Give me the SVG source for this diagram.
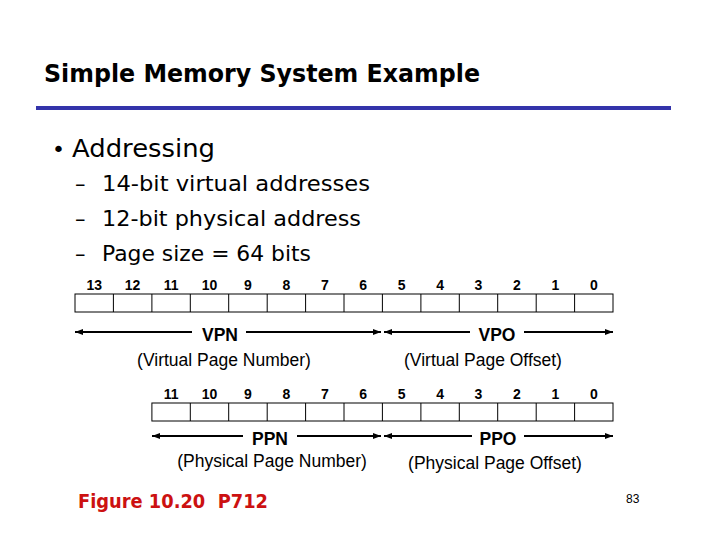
<svg xmlns="http://www.w3.org/2000/svg" width="720" height="540" viewBox="0 0 720 540">
<defs>
<marker id="ah" viewBox="0 0 8 6" refX="8" refY="3" markerWidth="8" markerHeight="6" markerUnits="userSpaceOnUse" orient="auto-start-reverse"><path d="M0,0 L8,3 L0,6 z" fill="#000"/></marker>
<style>
.t{font-family:"DejaVu Sans",sans-serif;fill:#000}
.num{font-family:"Liberation Sans",Arial,sans-serif;font-weight:bold;font-size:14px;text-anchor:middle}
.lbl{font-family:"Liberation Sans",Arial,sans-serif;font-weight:bold;font-size:17.5px;text-anchor:middle}
.sub{font-family:"Liberation Sans",Arial,sans-serif;font-size:17.5px;text-anchor:middle}
.cell{fill:#fff;stroke:#000;stroke-width:1}
.ln{stroke:#000;stroke-width:2;fill:none}
</style>
</defs>
<rect width="720" height="540" fill="#fff"/>
<g id="title">
<text class="t" x="44" y="82" font-size="24" font-weight="bold" textLength="436" lengthAdjust="spacingAndGlyphs">Simple Memory System Example</text>
<rect x="36" y="106" width="635" height="4" fill="#3333aa"/>
</g>
<g id="bullets">
<text class="t" x="52" y="157" font-size="22">•</text>
<text class="t" x="72" y="157" font-size="24" textLength="143" lengthAdjust="spacingAndGlyphs">Addressing</text>
<text class="t" x="75" y="191" font-size="21">–</text>
<text class="t" x="102" y="191" font-size="21" textLength="268" lengthAdjust="spacingAndGlyphs">14-bit virtual addresses</text>
<text class="t" x="75" y="226" font-size="21">–</text>
<text class="t" x="102" y="226" font-size="21" textLength="259" lengthAdjust="spacingAndGlyphs">12-bit physical address</text>
<text class="t" x="75" y="261" font-size="21">–</text>
<text class="t" x="102" y="261" font-size="21" textLength="209" lengthAdjust="spacingAndGlyphs">Page size = 64 bits</text>
</g>
<g id="virtual-address">
<text class="num" x="94.2" y="290">13</text>
<text class="num" x="132.6" y="290">12</text>
<text class="num" x="171.1" y="290">11</text>
<text class="num" x="209.5" y="290">10</text>
<text class="num" x="247.9" y="290">9</text>
<text class="num" x="286.4" y="290">8</text>
<text class="num" x="324.8" y="290">7</text>
<text class="num" x="363.2" y="290">6</text>
<text class="num" x="401.7" y="290">5</text>
<text class="num" x="440.1" y="290">4</text>
<text class="num" x="478.5" y="290">3</text>
<text class="num" x="516.9" y="290">2</text>
<text class="num" x="555.4" y="290">1</text>
<text class="num" x="593.8" y="290">0</text>
<rect class="cell" x="75" y="294" width="538" height="18"/>
<path d="M113.4,294V312M151.9,294V312M190.3,294V312M228.7,294V312M267.2,294V312M305.6,294V312M344,294V312M382.4,294V312M420.9,294V312M459.3,294V312M497.7,294V312M536.2,294V312M574.6,294V312" stroke="#000" stroke-width="1"/>
</g>
<g id="physical-address">
<text class="num" x="171.1" y="399">11</text>
<text class="num" x="209.5" y="399">10</text>
<text class="num" x="247.9" y="399">9</text>
<text class="num" x="286.4" y="399">8</text>
<text class="num" x="324.8" y="399">7</text>
<text class="num" x="363.2" y="399">6</text>
<text class="num" x="401.7" y="399">5</text>
<text class="num" x="440.1" y="399">4</text>
<text class="num" x="478.5" y="399">3</text>
<text class="num" x="516.9" y="399">2</text>
<text class="num" x="555.4" y="399">1</text>
<text class="num" x="593.8" y="399">0</text>
<rect class="cell" x="151.9" y="403" width="461.1" height="18"/>
<path d="M190.3,403V421M228.7,403V421M267.2,403V421M305.6,403V421M344,403V421M382.4,403V421M420.9,403V421M459.3,403V421M497.7,403V421M536.2,403V421M574.6,403V421" stroke="#000" stroke-width="1"/>
</g>
<g id="connectors">
<line class="ln" x1="75" y1="332" x2="192" y2="332" marker-start="url(#ah)"/>
<line class="ln" x1="246" y1="332" x2="381" y2="332" marker-end="url(#ah)"/>
<line class="ln" x1="384" y1="332" x2="470" y2="332" marker-start="url(#ah)"/>
<line class="ln" x1="524" y1="332" x2="613" y2="332" marker-end="url(#ah)"/>
<line class="ln" x1="152" y1="436" x2="243" y2="436" marker-start="url(#ah)"/>
<line class="ln" x1="297" y1="436" x2="381" y2="436" marker-end="url(#ah)"/>
<line class="ln" x1="384" y1="436" x2="472" y2="436" marker-start="url(#ah)"/>
<line class="ln" x1="524" y1="436" x2="613" y2="436" marker-end="url(#ah)"/>
</g>
<g id="vpn">
<text class="lbl" x="220" y="341">VPN</text>
<text class="sub" x="224" y="366">(Virtual Page Number)</text>
</g>
<g id="vpo">
<text class="lbl" x="497" y="341">VPO</text>
<text class="sub" x="483" y="366">(Virtual Page Offset)</text>
</g>
<g id="ppn">
<text class="lbl" x="270" y="445">PPN</text>
<text class="sub" x="272" y="467">(Physical Page Number)</text>
</g>
<g id="ppo">
<text class="lbl" x="498" y="445">PPO</text>
<text class="sub" x="495" y="469">(Physical Page Offset)</text>
</g>
<g id="footer">
<text class="t" xml:space="preserve" x="78" y="508" font-size="19" font-weight="bold" style="fill:#cc1111" textLength="190" lengthAdjust="spacingAndGlyphs">Figure 10.20  P712</text>
<text x="626" y="503" font-family="'Liberation Sans Narrow','Liberation Sans',sans-serif" font-size="12" fill="#000">83</text>
</g>
</svg>
